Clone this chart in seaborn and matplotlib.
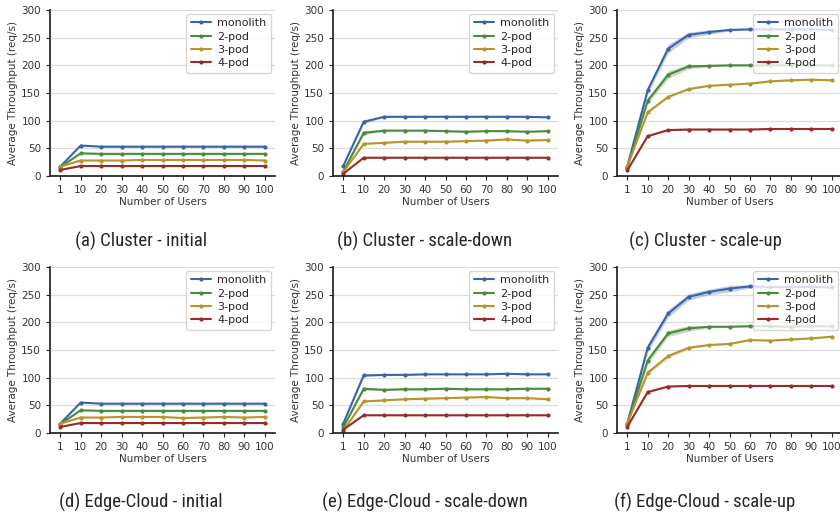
import numpy as np
import pandas as pd
import matplotlib
matplotlib.use("Agg")
import matplotlib.pyplot as plt
import seaborn as sns

# x categories (number of users)
users = ["1", "10", "20", "30", "40", "50", "60", "70", "80", "90", "100"]
series = ["monolith", "2-pod", "3-pod", "4-pod"]
colors = ["#3a65a5", "#4a8a3c", "#b8952a", "#992a2a"]

# mean throughput per panel (req/s)
cluster_initial = {
    "monolith": [17, 55, 53, 53, 53, 53, 53, 53, 53, 53, 53],
    "2-pod":    [16, 41, 40, 40, 40, 40, 40, 40, 40, 40, 40],
    "3-pod":    [17, 28, 28, 28, 29, 29, 29, 29, 29, 29, 28],
    "4-pod":    [11, 18, 18, 18, 18, 18, 18, 18, 18, 18, 18],
}
cluster_down = {
    "monolith": [18, 98, 107, 107, 107, 107, 107, 107, 107, 107, 106],
    "2-pod":    [8, 78, 82, 82, 82, 81, 80, 81, 81, 80, 81],
    "3-pod":    [7, 58, 60, 62, 62, 62, 63, 64, 66, 64, 65],
    "4-pod":    [4, 33, 33, 33, 33, 33, 33, 33, 33, 33, 33],
}
cluster_up = {
    "monolith": [17, 155, 230, 255, 260, 264, 265, 265, 265, 265, 264],
    "2-pod":    [15, 136, 183, 198, 199, 200, 200, 200, 200, 200, 200],
    "3-pod":    [17, 115, 143, 157, 163, 165, 167, 171, 173, 174, 173],
    "4-pod":    [10, 72, 83, 84, 84, 84, 84, 85, 85, 85, 85],
}
edge_initial = {
    "monolith": [17, 55, 53, 53, 53, 53, 53, 53, 53, 53, 53],
    "2-pod":    [16, 41, 40, 40, 40, 40, 40, 40, 40, 40, 40],
    "3-pod":    [17, 28, 28, 29, 29, 29, 27, 28, 29, 28, 29],
    "4-pod":    [11, 18, 18, 18, 18, 18, 18, 18, 18, 18, 18],
}
edge_down = {
    "monolith": [17, 104, 105, 105, 106, 106, 106, 106, 107, 106, 106],
    "2-pod":    [10, 80, 78, 79, 79, 80, 79, 79, 79, 80, 80],
    "3-pod":    [4, 57, 59, 61, 62, 63, 64, 65, 63, 63, 61],
    "4-pod":    [6, 32, 32, 32, 32, 32, 32, 32, 32, 32, 32],
}
edge_up = {
    "monolith": [17, 154, 216, 246, 255, 261, 265, 264, 264, 264, 263],
    "2-pod":    [16, 131, 180, 189, 192, 192, 193, 193, 192, 193, 193],
    "3-pod":    [17, 109, 139, 154, 159, 161, 168, 167, 169, 171, 174],
    "4-pod":    [11, 74, 84, 85, 85, 85, 85, 85, 85, 85, 85],
}

# half-width of the shaded confidence band
band_flat = {s: [0.5] * 11 for s in series}
band_cluster_down = {
    "monolith": [1, 3, 1, 0.5, 0.5, 0.5, 0.5, 0.5, 0.5, 0.5, 0.5],
    "2-pod":    [1, 4, 1, 0.5, 0.5, 1, 1, 0.5, 0.5, 0.5, 0.5],
    "3-pod":    [1, 1, 1, 1, 1, 1, 1, 1, 1, 1, 1],
    "4-pod":    [0.5] * 11,
}
band_cluster_up = {
    "monolith": [1, 6, 8, 5, 4, 2, 1, 1, 1, 1, 1],
    "2-pod":    [1, 5, 7, 4, 2, 1, 1, 1, 1, 1, 1],
    "3-pod":    [1, 2, 2, 1, 1, 1, 1, 1, 1, 1, 1],
    "4-pod":    [1, 1, 1, 1, 1, 1, 1, 1, 1, 1, 1],
}
band_edge_down = {
    "monolith": [1, 2, 1, 1, 0.5, 0.5, 0.5, 0.5, 0.5, 0.5, 0.5],
    "2-pod":    [1, 3, 1, 1, 1, 1, 1, 1, 1, 1, 1],
    "3-pod":    [1, 1, 1, 1, 1, 1, 1, 1.5, 1, 1, 1],
    "4-pod":    [0.5] * 11,
}
band_edge_up = {
    "monolith": [1, 7, 7, 6, 5, 6, 3, 2, 2, 2, 2],
    "2-pod":    [1, 6, 6, 5, 2, 1, 1, 1, 1, 1, 1],
    "3-pod":    [1, 4, 4, 2, 1, 1, 1, 1, 1, 1, 1],
    "4-pod":    [1, 1, 1, 1, 1, 1, 1, 1, 1, 1, 1],
}

panels = [
    (cluster_initial, band_flat, "(a) Cluster - initial"),
    (cluster_down, band_cluster_down, "(b) Cluster - scale-down"),
    (cluster_up, band_cluster_up, "(c) Cluster - scale-up"),
    (edge_initial, band_flat, "(d) Edge-Cloud - initial"),
    (edge_down, band_edge_down, "(e) Edge-Cloud - scale-down"),
    (edge_up, band_edge_up, "(f) Edge-Cloud - scale-up"),
]

sns.set_theme(style="whitegrid")
plt.rcParams["font.family"] = ["DejaVu Sans"]
plt.rcParams.update({
    "grid.color": "#dcdcdc",
    "axes.edgecolor": "#222222",
    "xtick.bottom": True,
    "ytick.left": True,
})

fig = plt.figure(figsize=(8.4, 5.14), dpi=100)

# axes positions in pixels
lefts = [50, 333, 617]
tops = [10, 267]
W, H = 840, 514
aw, ah = 225, 166
cap_x = [141, 425, 705]
cap_y = [241, 502]
cap_font = ["Liberation Sans Narrow", "Roboto Condensed", "DejaVu Sans"]

for i, (data, band, caption) in enumerate(panels):
    r, c = divmod(i, 3)
    ax = fig.add_axes([lefts[c] / W, 1 - (tops[r] + ah) / H, aw / W, ah / H])
    df = pd.DataFrame([
        {"users": u, "series": s, "throughput": v}
        for s in series for u, v in zip(users, data[s])
    ])
    pos = np.arange(len(users))
    for s, col in zip(series, colors):
        m = np.array(data[s], dtype=float)
        b = np.array(band[s], dtype=float)
        ax.fill_between(pos, m - b, m + b, color=col, alpha=0.3, lw=0)
    sns.lineplot(data=df, x="users", y="throughput", hue="series",
                 hue_order=series, palette=colors, marker="o",
                 markersize=3, markeredgewidth=0, linewidth=1.5, ax=ax,
                 sort=False)
    ax.set_xlim(-0.5, 10.5)
    ax.set_ylim(0, 300)
    ax.set_yticks([0, 50, 100, 150, 200, 250, 300])
    ax.grid(axis="x", visible=False)
    ax.grid(axis="y", linewidth=0.9)
    sns.despine(ax=ax)
    ax.tick_params(axis="both", labelsize=7.5, length=3, width=0.8,
                   colors="#222222", labelcolor="#333333", pad=3.5)
    ax.set_xlabel("Number of Users", fontsize=7.5, labelpad=1.5,
                  color="#333333")
    ax.set_ylabel("Average Throughput (req/s)", fontsize=7.5, labelpad=2,
                  color="#333333")
    leg = ax.legend(loc="upper right", fontsize=8, frameon=True,
                    handlelength=1.8, borderpad=0.4, labelspacing=0.3,
                    borderaxespad=0.35, handletextpad=0.6)
    leg.get_frame().set_edgecolor("#cccccc")
    fig.text(cap_x[c] / W, 1 - cap_y[r] / H, caption, ha="center",
             va="center", fontsize=13.5, family=cap_font)

fig.savefig("out.png", dpi=100)
